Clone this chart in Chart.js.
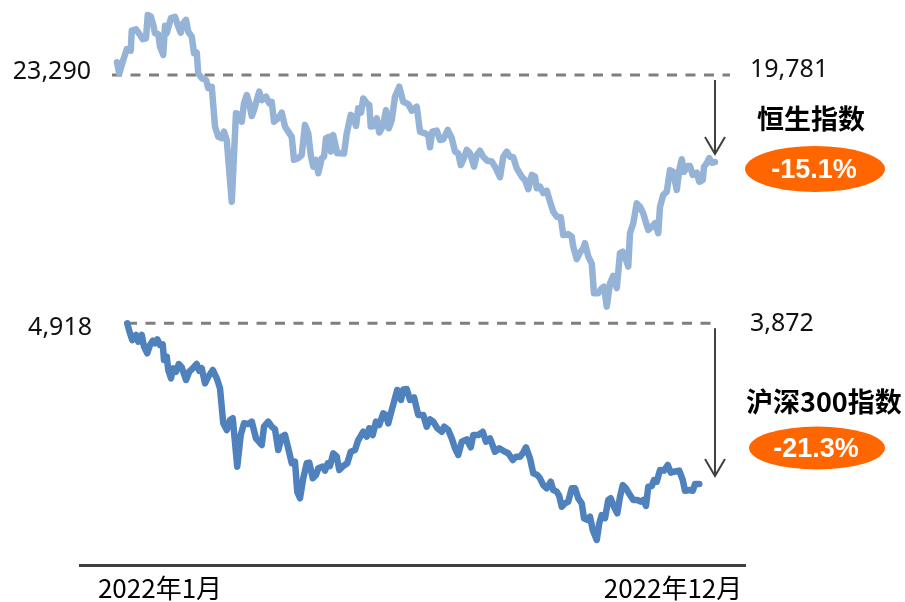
<!DOCTYPE html>
<html>
<head>
<meta charset="utf-8">
<script src="https://cdn.jsdelivr.net/npm/chart.js@4"></script>
<style>
  body { margin: 0; background: #fff; }
  canvas { display: block; }
</style>
</head>
<body>
<canvas id="chart" width="905" height="602"></canvas>
<script>
// 交易日序号（约）与指数收盘
const hsiDays = [0, 0.9, 2.5, 3.9, 5.5, 5.9, 7.6, 9.2, 10.3, 11.6,
  12.3, 13.5, 14.5, 15.2, 16.5, 17.2, 18.5, 19.2, 19.9, 20.8,
  21.6, 23.2, 24.5, 25.5, 26.5, 27.6, 28.5, 29.9, 30.8, 31.9,
  32.5, 33.9, 35.6, 36.5, 37.9, 39.2, 40.5, 41.9, 42.8, 43.9,
  45.9, 47.6, 48.9, 49.9, 50.8, 51.9, 52.9, 53.9, 54.8, 55.9,
  56.9, 57.9, 59.6, 60.9, 61.9, 62.8, 64.5, 65.9, 67.2, 68.5,
  69.9, 70.8, 72.5, 73.9, 75.2, 76.5, 77.5, 78.5, 79.6, 80.5,
  81.9, 82.8, 83.6, 84.9, 85.6, 86.5, 88.1, 89.5, 90.8, 91.9,
  93.5, 94.5, 95.6, 96.5, 97.6, 98.5, 99.9, 100.9, 101.5, 102.8,
  103.9, 104.9, 106.3, 107.6, 108.7, 109.9, 111.2, 112.9, 114.5, 116.5,
  117.9, 119.9, 121.2, 123.2, 124.5, 125.2, 126.1, 127.9, 129.2, 130.5,
  132.3, 133.9, 135.2, 136.5, 137.5, 138.5, 139.9, 141.2, 142.8, 143.9,
  145.2, 146.5, 148.1, 149.9, 151.2, 153.2, 154.5, 155.9, 157.2, 158.5,
  159.9, 161.9, 163.2, 164.5, 165.9, 167.2, 167.9, 169.2, 170.5, 171.9,
  173.2, 174.5, 175.9, 177.5, 178.5, 180.5, 181.9, 182.5, 183.9, 185.2,
  186.5, 187.2, 188.5, 189.9, 190.8, 192.5, 193.9, 194.8, 195.9, 197.2,
  198.5, 199.9, 201.2, 202.3, 203.6, 204.5, 205.2, 206.5, 207.9, 209.2,
  210.5, 211.6, 212.5, 213.9, 215.2, 216.5, 217.2, 218.5, 219.9, 221.2,
  222.5, 223.9, 224.9, 225.9, 226.8, 228.1, 229.2, 230.3, 231.9, 232.9,
  234.3, 234.8, 235.9, 236.9, 237.9, 239.2];

const hsiValues = [23290, 22900, 23370, 23750, 23700, 24400, 24450, 24250, 24100, 24130,
  24950, 24900, 24600, 24310, 24280, 23840, 23550, 24570, 24310, 24600,
  24840, 24890, 24540, 24330, 24660, 24780, 24370, 24190, 23610, 23630,
  22900, 22730, 22670, 22380, 22430, 21030, 20670, 20620, 20850, 20560,
  18390, 21500, 21440, 21200, 21850, 22140, 21850, 21400, 21610, 21960,
  22260, 21960, 22080, 21850, 21900, 21200, 21320, 21520, 21030, 20850,
  20670, 19860, 19920, 20030, 21090, 20790, 20030, 19620, 19860, 19390,
  19920, 19970, 20620, 20670, 20150, 20730, 20090, 20090, 20080, 20790,
  21440, 21380, 21050, 21670, 21520, 22020, 21850, 21790, 21030, 21050,
  21320, 20820, 21030, 21610, 20970, 21260, 22080, 22430, 21900, 21820,
  21590, 21730, 20850, 20790, 20730, 20300, 20850, 20890, 20560, 20580,
  20910, 20620, 20150, 20090, 19680, 19860, 20210, 20090, 19620, 20030,
  20180, 19970, 19830, 19800, 19620, 19250, 19970, 20150, 19970, 19950,
  19560, 19270, 19150, 18830, 19330, 19270, 18860, 18920, 18690, 18780,
  18390, 18040, 17860, 17840, 17220, 17250, 17160, 16810, 16370, 16600,
  16750, 16930, 16460, 16220, 15170, 15170, 15350, 15400, 14700, 15520,
  15780, 15350, 16580, 16630, 16340, 16110, 17280, 17630, 18330, 18210,
  17980, 17650, 17400, 17510, 17630, 17280, 18210, 18630, 18740, 19500,
  19440, 18800, 19500, 19880, 19440, 19640, 19640, 19330, 19410, 19090,
  19150, 19620, 19740, 19920, 19760, 19781];

const csiDays = [4.1, 5.2, 6.1, 7.6, 8.5, 9.9, 10.8, 12.1, 13.2, 14.3,
  15.2, 16.1, 17.2, 18.3, 18.8, 19.9, 20.5, 21.6, 22.5, 23.6,
  24.7, 25.9, 27.6, 28.9, 30.3, 31.9, 32.9, 33.9, 35.2, 36.5,
  38.3, 39.9, 41.2, 42.5, 43.9, 45.2, 46.3, 48.1, 49.5, 50.8,
  52.5, 53.9, 55.6, 57.9, 58.8, 60.5, 61.9, 63.2, 64.5, 65.9,
  67.2, 68.5, 69.9, 71.2, 72.1, 73.2, 74.5, 75.9, 76.9, 78.3,
  79.6, 80.5, 82.3, 83.2, 84.3, 85.2, 86.5, 87.9, 88.9, 90.5,
  92.1, 93.5, 95.2, 96.5, 98.5, 99.9, 100.9, 102.3, 103.6, 104.9,
  106.5, 107.6, 108.5, 109.9, 112.1, 113.6, 114.5, 115.9, 117.2, 118.8,
  120.5, 122.5, 123.9, 125.2, 126.5, 128.1, 129.9, 130.9, 132.5, 133.9,
  135.2, 136.5, 137.9, 139.9, 141.5, 142.5, 144.5, 146.3, 147.6, 149.2,
  151.2, 152.9, 155.2, 156.5, 158.3, 159.6, 161.2, 162.3, 163.6, 165.2,
  166.5, 168.1, 169.2, 170.5, 171.9, 173.5, 174.5, 175.9, 176.9, 177.9,
  179.2, 180.5, 181.9, 183.2, 184.5, 185.9, 186.8, 188.1, 189.2, 190.3,
  191.9, 192.9, 193.9, 195.2, 196.5, 197.5, 198.8, 200.1, 201.2, 202.3,
  203.6, 205.2, 206.5, 208.1, 209.5, 210.5, 211.6, 212.5, 213.9, 214.8,
  215.9, 217.2, 218.8, 220.3, 221.5, 222.8, 224.9, 226.3, 227.2, 228.9,
  230.3, 231.2, 232.9];

const csiValues = [4918, 4853, 4809, 4842, 4798, 4842, 4766, 4723, 4777, 4805,
  4788, 4814, 4777, 4781, 4679, 4701, 4614, 4560, 4625, 4603,
  4653, 4632, 4549, 4603, 4625, 4653, 4609, 4625, 4527, 4570,
  4614, 4560, 4495, 4267, 4223, 4289, 4300, 3985, 4191, 4267,
  4263, 4278, 4169, 4126, 4245, 4278, 4245, 4228, 4093, 4180,
  4191, 4104, 4007, 4017, 3822, 3779, 3909, 4007, 4011, 3909,
  3931, 3974, 3985, 3959, 4007, 3989, 4072, 4050, 3963, 3989,
  4007, 4082, 4093, 4158, 4212, 4180, 4235, 4191, 4278, 4256,
  4332, 4321, 4267, 4354, 4484, 4419, 4488, 4490, 4419, 4436,
  4321, 4321, 4245, 4293, 4278, 4235, 4212, 4245, 4223, 4169,
  4104, 4061, 4147, 4163, 4111, 4191, 4191, 4212, 4147, 4169,
  4082, 4104, 4082, 4072, 4028, 4050, 4050, 4072, 4111, 4039,
  3942, 3931, 3909, 3865, 3844, 3887, 3833, 3822, 3794, 3724,
  3746, 3757, 3844, 3844, 3779, 3746, 3649, 3638, 3659, 3573,
  3508, 3616, 3670, 3649, 3768, 3779, 3724, 3681, 3789, 3865,
  3844, 3800, 3768, 3768, 3757, 3768, 3729, 3854, 3859, 3898,
  3887, 3963, 3959, 3996, 3946, 3952, 3959, 3898, 3828, 3833,
  3828, 3872, 3872];

// 虚线参考（起点水平）
const hsiRefDays = [-2, 245.2];
const hsiRefValues = [22840, 22840];
const csiRefDays = [4.0, 240.4];
const csiRefValues = [4918, 4918];

const tickDays = [17.2, 222.4];
const tickLabels = ["2022年1月", "2022年12月"];

const hsiStartLabel = "23,290";
const hsiEndLabel = "19,781";
const csiStartLabel = "4,918";
const csiEndLabel = "3,872";
const hsiName = "恒生指数";
const csiName = "沪深300指数";
const hsiChange = "-15.1%";
const csiChange = "-21.3%";

function toPoints(xs, ys) {
  return xs.map((x, i) => ({ x: x, y: ys[i] }));
}

// 箭头、标签和椭圆
const annotations = {
  id: "annotations",
  afterDatasetsDraw(chart) {
    const ctx = chart.ctx;
    const x = chart.scales.x;
    const yH = chart.scales.yH;
    const yC = chart.scales.yC;
    const arrowX = x.getPixelForValue(hsiDays[hsiDays.length - 1]);

    function arrow(y0, y1) {
      ctx.save();
      ctx.strokeStyle = "#404040";
      ctx.lineWidth = 2;
      ctx.beginPath();
      ctx.moveTo(arrowX, y0);
      ctx.lineTo(arrowX, y1);
      ctx.moveTo(arrowX - 10, y1 - 17);
      ctx.lineTo(arrowX, y1);
      ctx.lineTo(arrowX + 10, y1 - 17);
      ctx.stroke();
      ctx.restore();
    }

    arrow(yH.getPixelForValue(hsiRefValues[0]) + 5,
      yH.getPixelForValue(hsiValues[hsiValues.length - 1]) - 8);
    arrow(yC.getPixelForValue(csiRefValues[0]) + 5,
      yC.getPixelForValue(csiValues[csiValues.length - 1]) - 8);

    function text(str, px, py, font, color, align) {
      ctx.save();
      ctx.font = font;
      ctx.fillStyle = color;
      ctx.textAlign = align;
      ctx.textBaseline = "middle";
      ctx.fillText(str, px, py);
      ctx.restore();
    }

    const numFont = "25px 'Noto Sans', sans-serif";
    text(hsiStartLabel, 91, 72, numFont, "#111", "right");
    text(csiStartLabel, 92, 328, numFont, "#111", "right");
    text(hsiEndLabel, 750, 70, numFont, "#111", "left");
    text(csiEndLabel, 750, 324, numFont, "#111", "left");

    const nameFont = "bold 27px 'Noto Sans CJK SC', sans-serif";
    text(hsiName, 757, 119, nameFont, "#000", "left");
    text(csiName, 746, 402, nameFont, "#000", "left");

    function badge(str, cx, cy, rx, ry) {
      ctx.save();
      ctx.fillStyle = "#ff6600";
      ctx.beginPath();
      ctx.ellipse(cx, cy, rx, ry, 0, 0, Math.PI * 2);
      ctx.fill();
      ctx.restore();
      text(str, cx - 1, cy + 2, "bold 27px 'Liberation Sans', Arial, sans-serif", "#fff", "center");
    }
    badge(hsiChange, 815, 169, 70, 23);
    badge(csiChange, 817, 448, 68, 21.5);
  }
};

new Chart(document.getElementById("chart"), {
  type: "line",
  data: {
    datasets: [
      {
        label: "恒生指数",
        data: toPoints(hsiDays, hsiValues),
        yAxisID: "yH",
        borderColor: "#95b3d7",
        borderWidth: 6.5,
        pointRadius: 0,
        tension: 0,
        borderJoinStyle: "round",
        borderCapStyle: "round",
      },
      {
        label: "沪深300指数",
        data: toPoints(csiDays, csiValues),
        yAxisID: "yC",
        borderColor: "#4f81bd",
        borderWidth: 6.5,
        pointRadius: 0,
        tension: 0,
        borderJoinStyle: "round",
        borderCapStyle: "round",
      },
      {
        label: "hsiRef",
        data: toPoints(hsiRefDays, hsiRefValues),
        yAxisID: "yH",
        borderColor: "#7f7f7f",
        borderWidth: 3,
        borderDash: [10, 8.5],
        pointRadius: 0,
      },
      {
        label: "csiRef",
        data: toPoints(csiRefDays, csiRefValues),
        yAxisID: "yC",
        borderColor: "#7f7f7f",
        borderWidth: 3,
        borderDash: [10, 8.5],
        pointRadius: 0,
      },
    ],
  },
  options: {
    responsive: false,
    animation: false,
    devicePixelRatio: 1,
    layout: {
      padding: { left: 80, right: 160, top: 0, bottom: 0 },
    },
    scales: {
      x: {
        type: "linear",
        min: -14.8,
        max: 251.2,
        grid: { display: false, drawTicks: false },
        border: { display: true, color: "#404040", width: 3 },
        afterBuildTicks: (axis) => {
          axis.ticks = tickDays.map((v) => ({ value: v }));
        },
        afterFit: (axis) => {
          axis.height = 37;
        },
        ticks: {
          autoSkip: false,
          maxRotation: 0,
          padding: 8,
          color: "#000",
          font: { family: "'Noto Sans CJK SC', sans-serif", size: 26 },
          callback: (value, index) => tickLabels[index],
        },
      },
      yH: { type: "linear", display: false, min: 5619, max: 25479 },
      yC: { type: "linear", display: false, min: 3344.8, max: 7022.4 },
    },
    plugins: {
      legend: { display: false },
      tooltip: { enabled: false },
    },
  },
  plugins: [annotations],
});
</script>
</body>
</html>
